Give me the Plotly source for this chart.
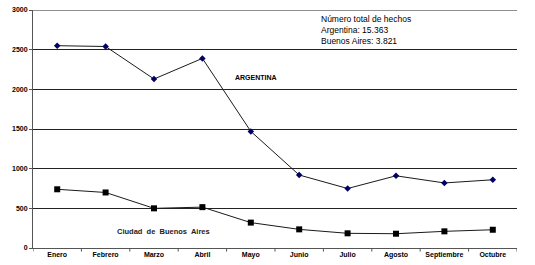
import plotly.graph_objects as go

meses = ["Enero", "Febrero", "Marzo", "Abril", "Mayo", "Junio", "Julio", "Agosto", "Septiembre", "Octubre"]
argentina = [2550, 2540, 2130, 2390, 1470, 920, 750, 910, 820, 860]
buenos_aires = [740, 700, 500, 515, 320, 235, 185, 180, 210, 230]
y_ticks = [0, 500, 1000, 1500, 2000, 2500, 3000]

fig = go.Figure()
fig.add_trace(go.Scatter(x=list(range(len(meses))), y=argentina, mode="lines+markers",
                         line=dict(color="#1a1a1a", width=1),
                         marker=dict(symbol="diamond", size=5, color="#000066"),
                         name="Argentina", cliponaxis=False))
fig.add_trace(go.Scatter(x=list(range(len(meses))), y=buenos_aires, mode="lines+markers",
                         line=dict(color="#1a1a1a", width=1),
                         marker=dict(symbol="square", size=6, color="#000000"),
                         name="Ciudad de Buenos Aires", cliponaxis=False))

fig.update_layout(
    width=535, height=265,
    margin=dict(l=33, r=18, t=10, b=17, autoexpand=False),
    paper_bgcolor="white", plot_bgcolor="white",
    showlegend=False,
    font=dict(family="Liberation Sans, Arial, sans-serif", color="black"),
    xaxis=dict(range=[-0.5, 9.5], tickmode="array",
               tickvals=list(range(len(meses))),
               ticktext=["<b>%s</b>" % m for m in meses],
               showgrid=False, showline=True, linecolor="#555", linewidth=1,
               ticks="", tickfont=dict(size=7), zeroline=False, automargin=False),
    yaxis=dict(range=[0, 3000], tickvals=y_ticks,
               ticktext=["<b>%d</b>" % v for v in y_ticks],
               showgrid=True, gridcolor="#222", gridwidth=1,
               showline=True, linecolor="#555", linewidth=1,
               ticks="outside", ticklen=3, tickcolor="#555",
               tickfont=dict(size=7), zeroline=False, automargin=False,
               ticklabeloverflow="allow"),
)

# top gridline (at the edge of the range) and category boundary ticks
fig.add_shape(type="line", xref="paper", yref="y", x0=0, x1=1, y0=y_ticks[-1], y1=y_ticks[-1],
              line=dict(color="#222", width=1))
for i in range(len(meses) + 1):
    fig.add_shape(type="line", xref="x", yref="paper", x0=i - 0.5, x1=i - 0.5,
                  y0=0, y1=-0.015, line=dict(color="#555", width=1))

fig.add_annotation(x=4.1, y=2150, xref="x", yref="y", text="<b>ARGENTINA</b>",
                   showarrow=False, font=dict(size=7), xanchor="center")
fig.add_annotation(x=2.2, y=210, xref="x", yref="y", text="<b>Ciudad  de  Buenos  Aires</b>",
                   showarrow=False, font=dict(size=7.5, color="#222"), xanchor="center")
fig.add_annotation(x=5.4, y=2980, xref="x", yref="y",
                   text="Número total de hechos<br>Argentina: 15.363<br>Buenos Aires: 3.821",
                   showarrow=False, align="left", xanchor="left", yanchor="top",
                   font=dict(size=8.5))

fig.write_html("out.html", config={"displayModeBar": False},
               post_script="document.body.style.margin='0';")
